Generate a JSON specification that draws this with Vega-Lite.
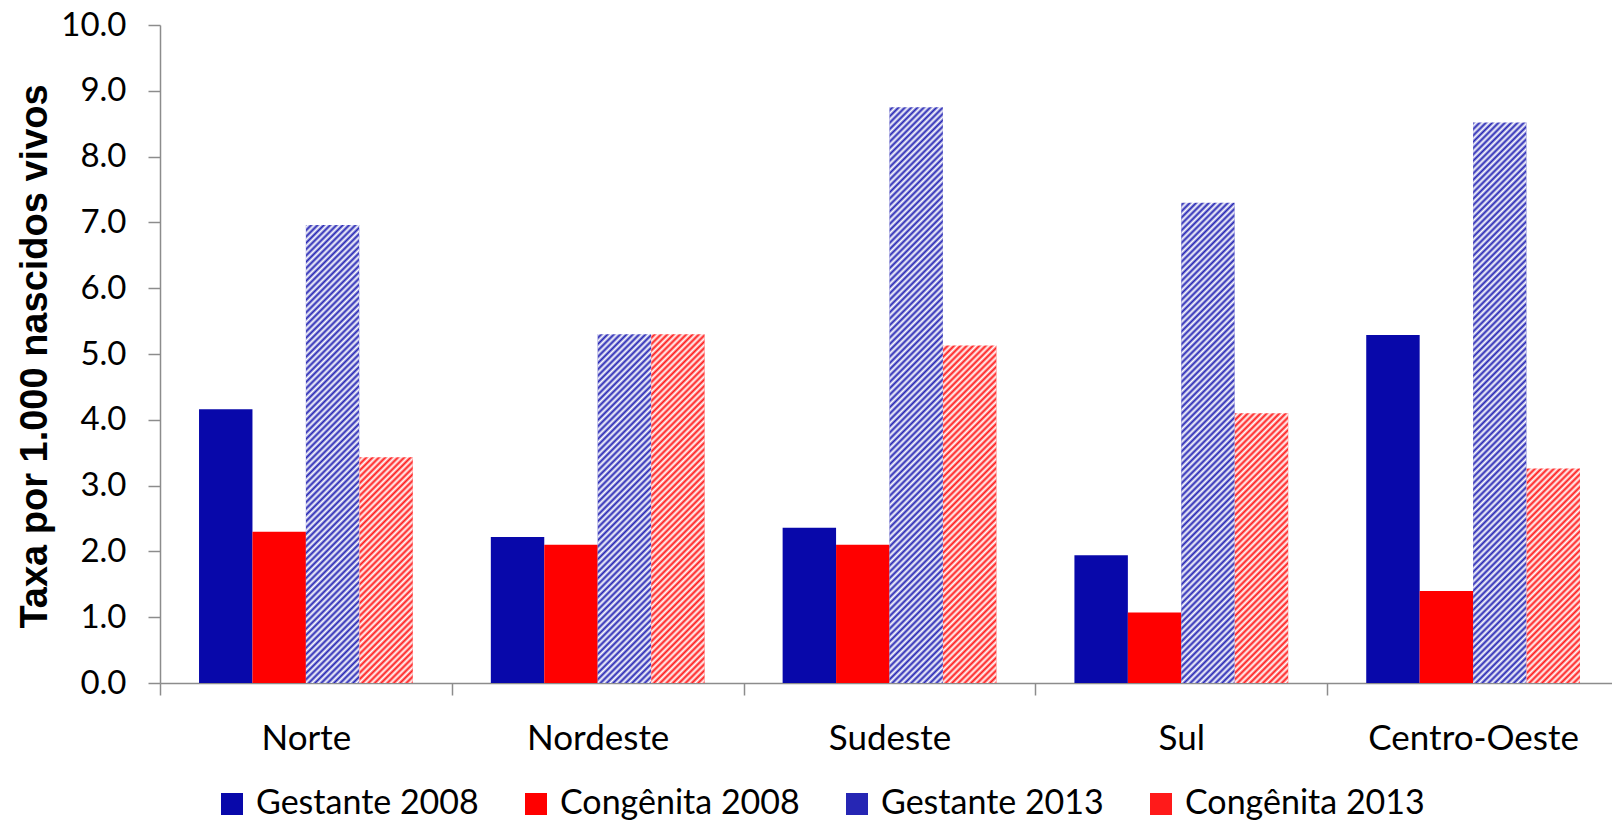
{
  "$schema": "https://vega.github.io/schema/vega-lite/v6.json",
  "autosize": {"type": "none"},
  "width": 1459,
  "height": 658,
  "padding": {"left": 160, "top": 25, "right": 0, "bottom": 140},
  "background": "white",
  "config": {
    "view": {"stroke": null},
    "font": "Lato",
    "axis": {
      "domainColor": "#8c8c8c",
      "domainWidth": 1.5,
      "tickColor": "#8c8c8c",
      "tickWidth": 1.5,
      "tickSize": 12,
      "labelFont": "Lato",
      "labelFontSize": 33,
      "labelColor": "#000000",
      "grid": false
    }
  },
  "data": {
    "values": [
      {"regiao": "Norte", "serie": "Gestante 2008", "valor": 4.16},
      {"regiao": "Norte", "serie": "Congênita 2008", "valor": 2.30},
      {"regiao": "Norte", "serie": "Gestante 2013", "valor": 6.96},
      {"regiao": "Norte", "serie": "Congênita 2013", "valor": 3.43},
      {"regiao": "Nordeste", "serie": "Gestante 2008", "valor": 2.22},
      {"regiao": "Nordeste", "serie": "Congênita 2008", "valor": 2.10},
      {"regiao": "Nordeste", "serie": "Gestante 2013", "valor": 5.30},
      {"regiao": "Nordeste", "serie": "Congênita 2013", "valor": 5.30},
      {"regiao": "Sudeste", "serie": "Gestante 2008", "valor": 2.36},
      {"regiao": "Sudeste", "serie": "Congênita 2008", "valor": 2.10},
      {"regiao": "Sudeste", "serie": "Gestante 2013", "valor": 8.75},
      {"regiao": "Sudeste", "serie": "Congênita 2013", "valor": 5.13},
      {"regiao": "Sul", "serie": "Gestante 2008", "valor": 1.94},
      {"regiao": "Sul", "serie": "Congênita 2008", "valor": 1.07},
      {"regiao": "Sul", "serie": "Gestante 2013", "valor": 7.30},
      {"regiao": "Sul", "serie": "Congênita 2013", "valor": 4.10},
      {"regiao": "Centro-Oeste", "serie": "Gestante 2008", "valor": 5.29},
      {"regiao": "Centro-Oeste", "serie": "Congênita 2008", "valor": 1.40},
      {"regiao": "Centro-Oeste", "serie": "Gestante 2013", "valor": 8.52},
      {"regiao": "Centro-Oeste", "serie": "Congênita 2013", "valor": 3.26}
    ]
  },
  "encoding": {
    "x": {
      "field": "regiao",
      "type": "nominal",
      "sort": ["Norte", "Nordeste", "Sudeste", "Sul", "Centro-Oeste"],
      "title": null,
      "scale": {"paddingInner": 0.2675, "paddingOuter": 0.13375},
      "axis": {
        "labelAngle": 0,
        "labelFontSize": 35,
        "labelLimit": 400,
        "labelPadding": 26,
        "tickOffset": -145.875,
        "labelOffset": 145.875
      }
    },
    "xOffset": {
      "field": "serie",
      "type": "nominal",
      "sort": ["Gestante 2008", "Congênita 2008", "Gestante 2013", "Congênita 2013"],
      "scale": {"paddingInner": 0, "paddingOuter": 0}
    }
  },
  "layer": [
    {
      "mark": {"type": "bar"},
      "encoding": {
        "y": {
          "field": "valor",
          "type": "quantitative",
          "title": "Taxa por 1.000 nascidos vivos",
          "scale": {"domain": [0, 10], "nice": false},
          "axis": {
            "values": [0, 1, 2, 3, 4, 5, 6, 7, 8, 9, 10],
            "format": ".1f",
            "labelPadding": 22,
            "titleFont": "Liberation Sans",
            "titleFontSize": 38,
            "titleFontWeight": "bold",
            "titleColor": "#000000",
            "titleX": -114,
            "titleY": 331,
            "titleAngle": -90,
            "titleAlign": "center",
            "titleBaseline": "alphabetic"
          }
        },
        "color": {
          "field": "serie",
          "type": "nominal",
          "title": null,
          "scale": {
            "domain": ["Gestante 2008", "Congênita 2008", "Gestante 2013", "Congênita 2013"],
            "range": ["#0808aa", "#ff0000", "#2626b4", "#ff1a1a"]
          },
          "legend": {
            "orient": "none",
            "direction": "horizontal",
            "legendX": 55,
            "legendY": 762,
            "padding": 0,
            "symbolType": "square",
            "symbolSize": 484,
            "symbolStrokeWidth": 0,
            "labelFont": "Lato",
            "labelFontSize": 34,
            "labelColor": "#000000",
            "labelOffset": 7,
            "columnPadding": 40,
            "labelLimit": 400
          }
        }
      }
    },
    {
      "transform": [{"filter": "datum.serie === 'Gestante 2013' || datum.serie === 'Congênita 2013'"}],
      "mark": {
        "type": "bar",
        "fill": {
          "gradient": "linear", "x1": 0, "y1": 0, "x2": 0.1, "y2": 1.083,
          "stops": [
            {"offset": 0, "color": "#fff0"}, {"offset": 0.005, "color": "#fff"},
            {"offset": 0.01, "color": "#fff0"}, {"offset": 0.015, "color": "#fff"},
            {"offset": 0.02, "color": "#fff0"}, {"offset": 0.025, "color": "#fff"},
            {"offset": 0.03, "color": "#fff0"}, {"offset": 0.035, "color": "#fff"},
            {"offset": 0.04, "color": "#fff0"}, {"offset": 0.045, "color": "#fff"},
            {"offset": 0.05, "color": "#fff0"}, {"offset": 0.055, "color": "#fff"},
            {"offset": 0.06, "color": "#fff0"}, {"offset": 0.065, "color": "#fff"},
            {"offset": 0.07, "color": "#fff0"}, {"offset": 0.075, "color": "#fff"},
            {"offset": 0.08, "color": "#fff0"}, {"offset": 0.085, "color": "#fff"},
            {"offset": 0.09, "color": "#fff0"}, {"offset": 0.095, "color": "#fff"},
            {"offset": 0.1, "color": "#fff0"}, {"offset": 0.105, "color": "#fff"},
            {"offset": 0.11, "color": "#fff0"}, {"offset": 0.115, "color": "#fff"},
            {"offset": 0.12, "color": "#fff0"}, {"offset": 0.125, "color": "#fff"},
            {"offset": 0.13, "color": "#fff0"}, {"offset": 0.135, "color": "#fff"},
            {"offset": 0.14, "color": "#fff0"}, {"offset": 0.145, "color": "#fff"},
            {"offset": 0.15, "color": "#fff0"}, {"offset": 0.155, "color": "#fff"},
            {"offset": 0.16, "color": "#fff0"}, {"offset": 0.165, "color": "#fff"},
            {"offset": 0.17, "color": "#fff0"}, {"offset": 0.175, "color": "#fff"},
            {"offset": 0.18, "color": "#fff0"}, {"offset": 0.185, "color": "#fff"},
            {"offset": 0.19, "color": "#fff0"}, {"offset": 0.195, "color": "#fff"},
            {"offset": 0.2, "color": "#fff0"}, {"offset": 0.205, "color": "#fff"},
            {"offset": 0.21, "color": "#fff0"}, {"offset": 0.215, "color": "#fff"},
            {"offset": 0.22, "color": "#fff0"}, {"offset": 0.225, "color": "#fff"},
            {"offset": 0.23, "color": "#fff0"}, {"offset": 0.235, "color": "#fff"},
            {"offset": 0.24, "color": "#fff0"}, {"offset": 0.245, "color": "#fff"},
            {"offset": 0.25, "color": "#fff0"}, {"offset": 0.255, "color": "#fff"},
            {"offset": 0.26, "color": "#fff0"}, {"offset": 0.265, "color": "#fff"},
            {"offset": 0.27, "color": "#fff0"}, {"offset": 0.275, "color": "#fff"},
            {"offset": 0.28, "color": "#fff0"}, {"offset": 0.285, "color": "#fff"},
            {"offset": 0.29, "color": "#fff0"}, {"offset": 0.295, "color": "#fff"},
            {"offset": 0.3, "color": "#fff0"}, {"offset": 0.305, "color": "#fff"},
            {"offset": 0.31, "color": "#fff0"}, {"offset": 0.315, "color": "#fff"},
            {"offset": 0.32, "color": "#fff0"}, {"offset": 0.325, "color": "#fff"},
            {"offset": 0.33, "color": "#fff0"}, {"offset": 0.335, "color": "#fff"},
            {"offset": 0.34, "color": "#fff0"}, {"offset": 0.345, "color": "#fff"},
            {"offset": 0.35, "color": "#fff0"}, {"offset": 0.355, "color": "#fff"},
            {"offset": 0.36, "color": "#fff0"}, {"offset": 0.365, "color": "#fff"},
            {"offset": 0.37, "color": "#fff0"}, {"offset": 0.375, "color": "#fff"},
            {"offset": 0.38, "color": "#fff0"}, {"offset": 0.385, "color": "#fff"},
            {"offset": 0.39, "color": "#fff0"}, {"offset": 0.395, "color": "#fff"},
            {"offset": 0.4, "color": "#fff0"}, {"offset": 0.405, "color": "#fff"},
            {"offset": 0.41, "color": "#fff0"}, {"offset": 0.415, "color": "#fff"},
            {"offset": 0.42, "color": "#fff0"}, {"offset": 0.425, "color": "#fff"},
            {"offset": 0.43, "color": "#fff0"}, {"offset": 0.435, "color": "#fff"},
            {"offset": 0.44, "color": "#fff0"}, {"offset": 0.445, "color": "#fff"},
            {"offset": 0.45, "color": "#fff0"}, {"offset": 0.455, "color": "#fff"},
            {"offset": 0.46, "color": "#fff0"}, {"offset": 0.465, "color": "#fff"},
            {"offset": 0.47, "color": "#fff0"}, {"offset": 0.475, "color": "#fff"},
            {"offset": 0.48, "color": "#fff0"}, {"offset": 0.485, "color": "#fff"},
            {"offset": 0.49, "color": "#fff0"}, {"offset": 0.495, "color": "#fff"},
            {"offset": 0.5, "color": "#fff0"}, {"offset": 0.505, "color": "#fff"},
            {"offset": 0.51, "color": "#fff0"}, {"offset": 0.515, "color": "#fff"},
            {"offset": 0.52, "color": "#fff0"}, {"offset": 0.525, "color": "#fff"},
            {"offset": 0.53, "color": "#fff0"}, {"offset": 0.535, "color": "#fff"},
            {"offset": 0.54, "color": "#fff0"}, {"offset": 0.545, "color": "#fff"},
            {"offset": 0.55, "color": "#fff0"}, {"offset": 0.555, "color": "#fff"},
            {"offset": 0.56, "color": "#fff0"}, {"offset": 0.565, "color": "#fff"},
            {"offset": 0.57, "color": "#fff0"}, {"offset": 0.575, "color": "#fff"},
            {"offset": 0.58, "color": "#fff0"}, {"offset": 0.585, "color": "#fff"},
            {"offset": 0.59, "color": "#fff0"}, {"offset": 0.595, "color": "#fff"},
            {"offset": 0.6, "color": "#fff0"}, {"offset": 0.605, "color": "#fff"},
            {"offset": 0.61, "color": "#fff0"}, {"offset": 0.615, "color": "#fff"},
            {"offset": 0.62, "color": "#fff0"}, {"offset": 0.625, "color": "#fff"},
            {"offset": 0.63, "color": "#fff0"}, {"offset": 0.635, "color": "#fff"},
            {"offset": 0.64, "color": "#fff0"}, {"offset": 0.645, "color": "#fff"},
            {"offset": 0.65, "color": "#fff0"}, {"offset": 0.655, "color": "#fff"},
            {"offset": 0.66, "color": "#fff0"}, {"offset": 0.665, "color": "#fff"},
            {"offset": 0.67, "color": "#fff0"}, {"offset": 0.675, "color": "#fff"},
            {"offset": 0.68, "color": "#fff0"}, {"offset": 0.685, "color": "#fff"},
            {"offset": 0.69, "color": "#fff0"}, {"offset": 0.695, "color": "#fff"},
            {"offset": 0.7, "color": "#fff0"}, {"offset": 0.705, "color": "#fff"},
            {"offset": 0.71, "color": "#fff0"}, {"offset": 0.715, "color": "#fff"},
            {"offset": 0.72, "color": "#fff0"}, {"offset": 0.725, "color": "#fff"},
            {"offset": 0.73, "color": "#fff0"}, {"offset": 0.735, "color": "#fff"},
            {"offset": 0.74, "color": "#fff0"}, {"offset": 0.745, "color": "#fff"},
            {"offset": 0.75, "color": "#fff0"}, {"offset": 0.755, "color": "#fff"},
            {"offset": 0.76, "color": "#fff0"}, {"offset": 0.765, "color": "#fff"},
            {"offset": 0.77, "color": "#fff0"}, {"offset": 0.775, "color": "#fff"},
            {"offset": 0.78, "color": "#fff0"}, {"offset": 0.785, "color": "#fff"},
            {"offset": 0.79, "color": "#fff0"}, {"offset": 0.795, "color": "#fff"},
            {"offset": 0.8, "color": "#fff0"}, {"offset": 0.805, "color": "#fff"},
            {"offset": 0.81, "color": "#fff0"}, {"offset": 0.815, "color": "#fff"},
            {"offset": 0.82, "color": "#fff0"}, {"offset": 0.825, "color": "#fff"},
            {"offset": 0.83, "color": "#fff0"}, {"offset": 0.835, "color": "#fff"},
            {"offset": 0.84, "color": "#fff0"}, {"offset": 0.845, "color": "#fff"},
            {"offset": 0.85, "color": "#fff0"}, {"offset": 0.855, "color": "#fff"},
            {"offset": 0.86, "color": "#fff0"}, {"offset": 0.865, "color": "#fff"},
            {"offset": 0.87, "color": "#fff0"}, {"offset": 0.875, "color": "#fff"},
            {"offset": 0.88, "color": "#fff0"}, {"offset": 0.885, "color": "#fff"},
            {"offset": 0.89, "color": "#fff0"}, {"offset": 0.895, "color": "#fff"},
            {"offset": 0.9, "color": "#fff0"}, {"offset": 0.905, "color": "#fff"},
            {"offset": 0.91, "color": "#fff0"}, {"offset": 0.915, "color": "#fff"},
            {"offset": 0.92, "color": "#fff0"}, {"offset": 0.925, "color": "#fff"},
            {"offset": 0.93, "color": "#fff0"}, {"offset": 0.935, "color": "#fff"},
            {"offset": 0.94, "color": "#fff0"}, {"offset": 0.945, "color": "#fff"},
            {"offset": 0.95, "color": "#fff0"}, {"offset": 0.955, "color": "#fff"},
            {"offset": 0.96, "color": "#fff0"}, {"offset": 0.965, "color": "#fff"},
            {"offset": 0.97, "color": "#fff0"}, {"offset": 0.975, "color": "#fff"},
            {"offset": 0.98, "color": "#fff0"}, {"offset": 0.985, "color": "#fff"},
            {"offset": 0.99, "color": "#fff0"}, {"offset": 0.995, "color": "#fff"},
            {"offset": 1, "color": "#fff0"}
          ]
        }
      },
      "encoding": {
        "y": {"datum": 8.8, "type": "quantitative", "title": "Taxa por 1.000 nascidos vivos"},
        "y2": {"datum": 0}
      }
    }
  ]
}
